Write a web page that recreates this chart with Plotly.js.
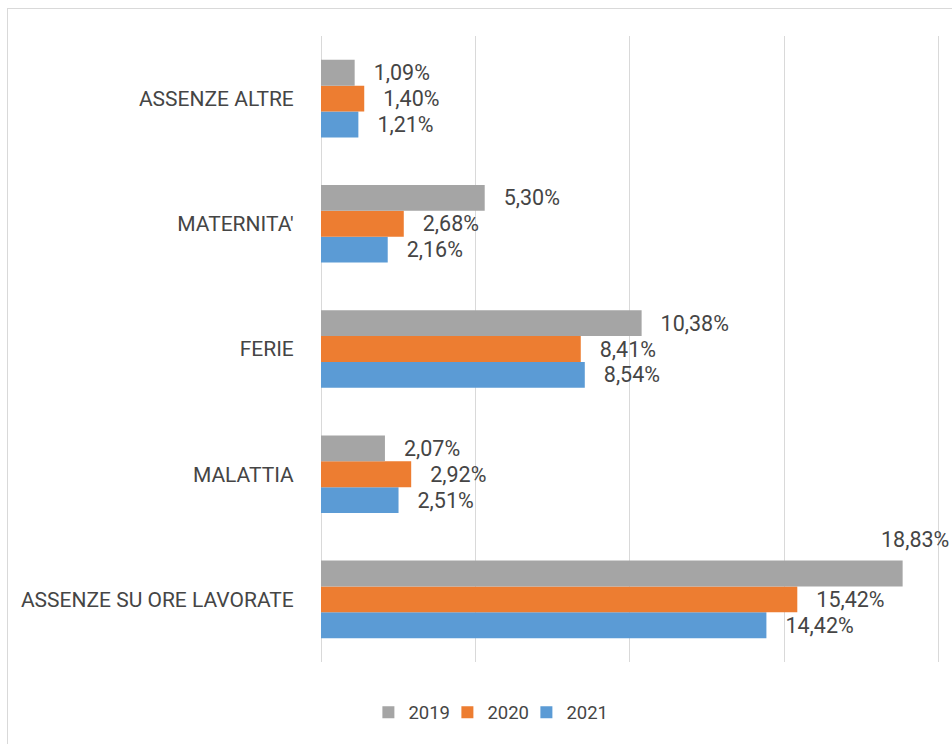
<!DOCTYPE html>
<html>
<head>
<meta charset="utf-8">
<script src="https://cdn.plot.ly/plotly-3.0.1.min.js"></script>
<style>
  html, body { margin: 0; padding: 0; background: #fff; overflow: hidden; }
  #chart { position: absolute; left: 0; top: 0; width: 952px; height: 744px; }
  #frame { position: absolute; left: 7px; top: 8px; width: 1000px; height: 800px;
           border-left: 1px solid #d9d9d9; border-top: 1px solid #d9d9d9; pointer-events: none; }
</style>
</head>
<body>
<div id="chart"></div>
<div id="frame"></div>
<script>
// Categories listed bottom-to-top as they appear on the chart
const categories = ["ASSENZE SU ORE LAVORATE", "MALATTIA", "FERIE", "MATERNITA'", "ASSENZE ALTRE"];
const years = ["2019", "2020", "2021"];
const v2019 = [18.83, 2.07, 10.38, 5.30, 1.09];
const v2020 = [15.42, 2.92, 8.41, 2.68, 1.40];
const v2021 = [14.42, 2.51, 8.54, 2.16, 1.21];
const colors = { "2019": "#A5A5A5", "2020": "#ED7D31", "2021": "#5B9BD5" };

const fmt = v => "\u00a0\u00a0\u00a0" + v.toFixed(2).replace(".", ",") + "%";
const FONT = "Roboto, 'Liberation Sans', Arial, sans-serif";
const TXT = "#454545";

function mk(name, vals, hideIdx) {
  return {
    type: "bar", orientation: "h", name: name,
    y: categories, x: vals,
    marker: { color: colors[name] },
    text: vals.map((v, i) => i === hideIdx ? "" : fmt(v)),
    textposition: "outside",
    textfont: { family: FONT, size: 21.5, color: TXT },
    cliponaxis: false,
    hoverinfo: "skip"
  };
}

// Excel puts the 2019 label of the first category above its bar
const traces = [mk("2021", v2021, -1), mk("2020", v2020, -1), mk("2019", v2019, 0)];

const layout = {
  width: 952, height: 744,
  margin: { l: 321, r: 12, t: 36, b: 80 },
  paper_bgcolor: "#fff", plot_bgcolor: "#fff",
  barmode: "group", bargap: 0.38, bargroupgap: 0,
  font: { family: FONT, size: 21, color: TXT },
  showlegend: true,
  legend: {
    orientation: "h", traceorder: "reversed",
    x: 0.268, xanchor: "center", y: -0.081, yanchor: "middle",
    entrywidth: 34, entrywidthmode: "pixels",
    font: { family: FONT, size: 18.5, color: TXT }
  },
  xaxis: {
    range: [0, 20.04], dtick: 5, tick0: 0,
    showticklabels: false, ticks: "",
    showgrid: true, gridcolor: "#d9d9d9", gridwidth: 1,
    zeroline: true, zerolinecolor: "#d9d9d9", zerolinewidth: 1,
    showline: false, fixedrange: true
  },
  yaxis: {
    type: "category", showgrid: false, zeroline: false, showline: false,
    ticks: "outside", ticklen: 22, tickcolor: "rgba(0,0,0,0)",
    tickfont: { family: FONT, size: 21, color: TXT },
    fixedrange: true
  },
  annotations: [{
    x: v2019[0], y: categories[0], xref: "x", yref: "y",
    text: v2019[0].toFixed(2).replace(".", ",") + "%",
    showarrow: false, xanchor: "left", yanchor: "middle",
    xshift: -24, yshift: 60,
    font: { family: FONT, size: 21.5, color: TXT }
  }]
};

Plotly.newPlot("chart", traces, layout, { displayModeBar: false, staticPlot: true });
</script>
</body>
</html>
